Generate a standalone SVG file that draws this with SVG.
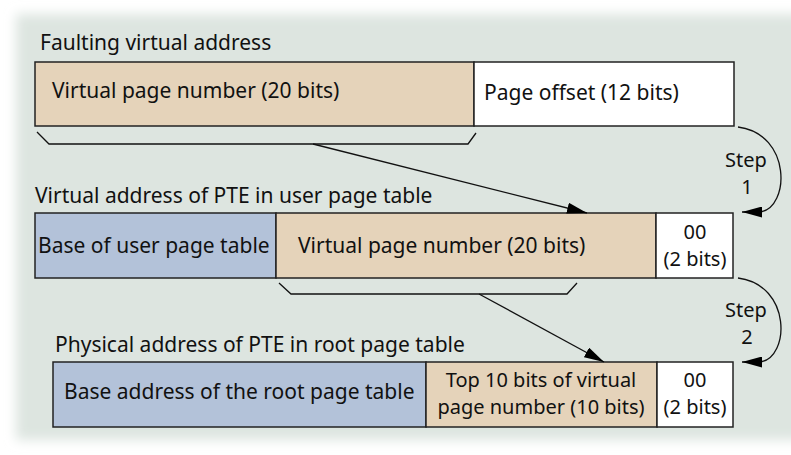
<svg xmlns="http://www.w3.org/2000/svg" width="791" height="455" viewBox="0 0 791 455">
<defs>
<filter id="soft" x="-5%" y="-5%" width="110%" height="110%"><feGaussianBlur stdDeviation="6"/></filter>
<marker id="ah" markerUnits="userSpaceOnUse" markerWidth="21" markerHeight="11" refX="20" refY="5.5" orient="auto"><path d="M0,0 L20,5.5 L0,11 Z" fill="#000"/></marker>
</defs>
<style>
text{font-family:"Noto Sans","Open Sans","Liberation Sans",sans-serif;font-size:21px;fill:#111}
.mid{text-anchor:middle}
.sm{font-size:20px}
.tan{fill:#e5d3ba;stroke:#222;stroke-width:1.5}
.blue{fill:#b3c2d9;stroke:#222;stroke-width:1.5}
.white{fill:#fff;stroke:#222;stroke-width:1.5}
.ln{fill:none;stroke:#111;stroke-width:1.3}
</style>
<rect width="791" height="455" fill="#fff"/>
<rect x="16" y="14" width="800" height="426" fill="#dde5e0" filter="url(#soft)"/>

<g id="row1">
<text x="40" y="50">Faulting virtual address</text>
<g id="vpn1"><rect class="tan" x="35" y="62" width="439" height="64"/><text x="52" y="98">Virtual page number (20 bits)</text></g>
<g id="offset1"><rect class="white" x="474" y="62" width="260" height="64"/><text x="484" y="100">Page offset (12 bits)</text></g>
</g>

<g id="row2">
<text x="35" y="203">Virtual address of PTE in user page table</text>
<g id="base2"><rect class="blue" x="35" y="213" width="241" height="65"/><text x="38" y="253">Base of user page table</text></g>
<g id="vpn2"><rect class="tan" x="276" y="213" width="380" height="65"/><text x="298" y="253">Virtual page number (20 bits)</text></g>
<g id="zero2"><rect class="white" x="656" y="213" width="77" height="65"/><text class="mid sm" x="695" y="239">00</text><text class="mid sm" x="695" y="266">(2 bits)</text></g>
</g>

<g id="row3">
<text x="55" y="352">Physical address of PTE in root page table</text>
<g id="base3"><rect class="blue" x="53" y="362" width="373" height="65"/><text x="64" y="399">Base address of the root page table</text></g>
<g id="top3"><rect class="tan" x="426" y="362" width="231" height="65"/><text class="mid sm" x="541" y="387">Top 10 bits of virtual</text><text class="mid sm" x="541" y="414">page number (10 bits)</text></g>
<g id="zero3"><rect class="white" x="657" y="362" width="76" height="65"/><text class="mid sm" x="695" y="387">00</text><text class="mid sm" x="695" y="414">(2 bits)</text></g>
</g>

<g id="connectors">
<path class="ln" d="M37,132 L49,144 L468,144 L476,133"/>
<line class="ln" x1="313" y1="144" x2="587" y2="213" marker-end="url(#ah)"/>
<path class="ln" d="M279,283 L291,294 L567,294 L577,283"/>
<line class="ln" x1="479" y1="294" x2="604" y2="362" marker-end="url(#ah)"/>
<path class="ln" d="M738,127 C792,134 790,208 760,212 L742,212" marker-end="url(#ah)"/>
<path class="ln" d="M738,278 C792,285 790,358 760,362 L742,362" marker-end="url(#ah)"/>
<text class="mid sm" x="746" y="167">Step</text>
<text class="mid sm" x="747" y="194">1</text>
<text class="mid sm" x="746" y="317">Step</text>
<text class="mid sm" x="747" y="344">2</text>
</g>
</svg>
